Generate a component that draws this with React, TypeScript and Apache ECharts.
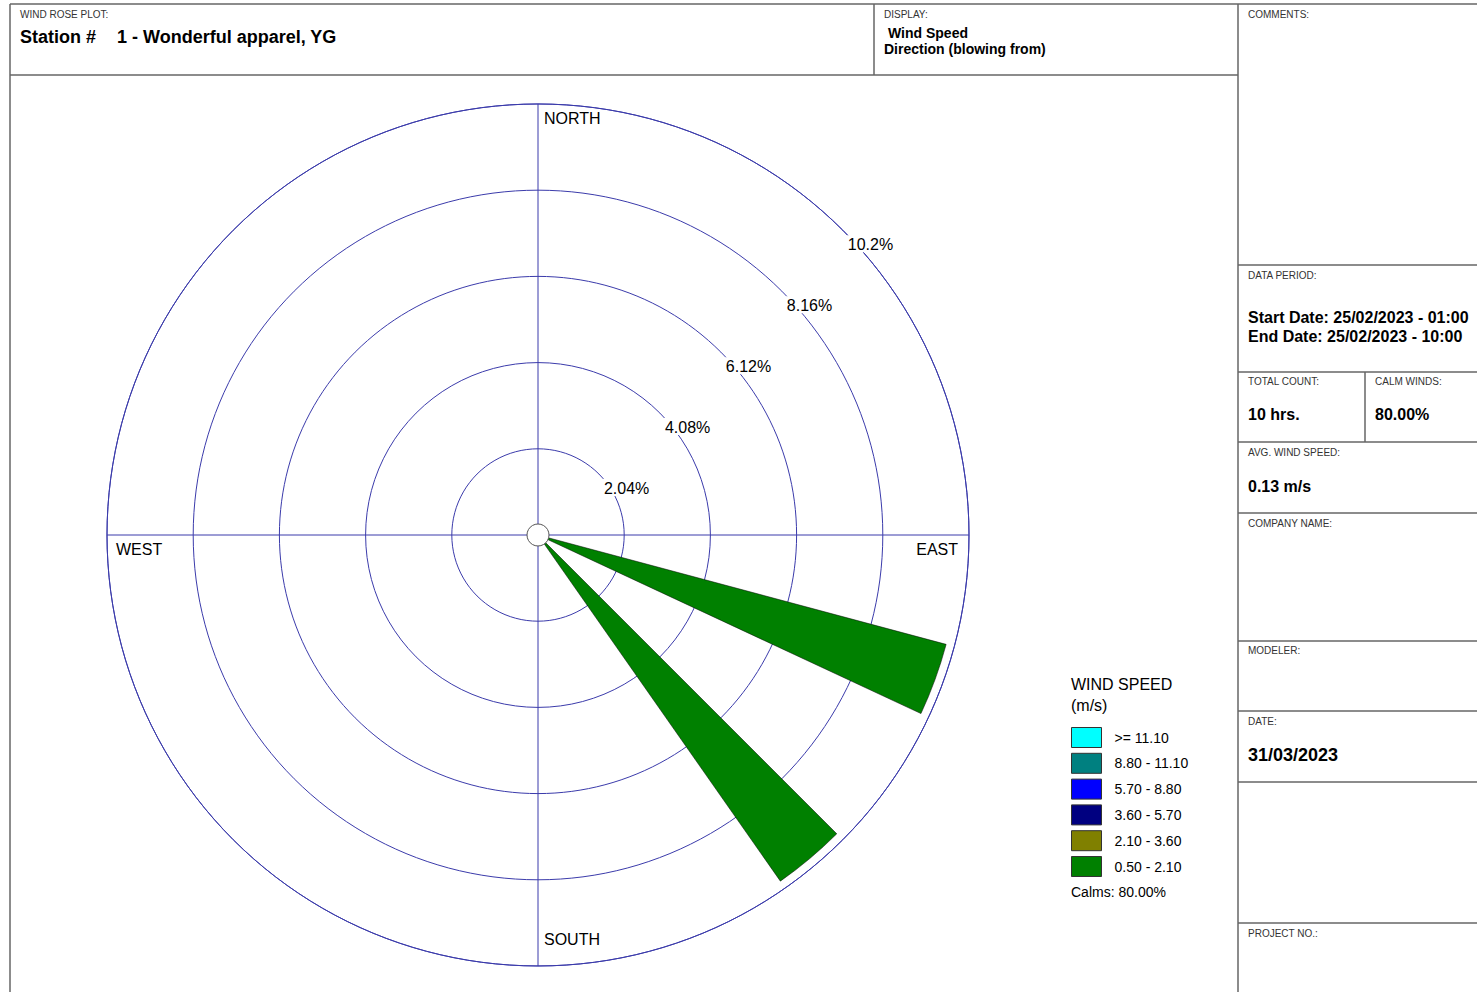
import React, { useEffect, useRef } from 'react';
import * as echarts from 'echarts';

// ---------- data ----------
const DIRECTIONS = ['0', '10', '20', '30', '40', '50', '60', '70', '80', '90', '100', '110', '120', '130', '140', '150', '160', '170',
  '180', '190', '200', '210', '220', '230', '240', '250', '260', '270', '280', '290', '300', '310', '320', '330', '340', '350'];

const SPEED_CLASSES = ['0.50 - 2.10', '2.10 - 3.60', '3.60 - 5.70', '5.70 - 8.80', '8.80 - 11.10', '>= 11.10'];
const CLASS_COLORS = ['#008000', '#808000', '#000080', '#0000FF', '#008080', '#00FFFF'];

// frequency (%) per 10° direction sector
const FREQ_050_210 = [0, 0, 0, 0, 0, 0, 0, 0, 0, 0, 0, 10, 0, 0, 10, 0, 0, 0, 0, 0, 0, 0, 0, 0, 0, 0, 0, 0, 0, 0, 0, 0, 0, 0, 0, 0];
const FREQ_210_360 = [0, 0, 0, 0, 0, 0, 0, 0, 0, 0, 0, 0, 0, 0, 0, 0, 0, 0, 0, 0, 0, 0, 0, 0, 0, 0, 0, 0, 0, 0, 0, 0, 0, 0, 0, 0];
const FREQ_360_570 = [0, 0, 0, 0, 0, 0, 0, 0, 0, 0, 0, 0, 0, 0, 0, 0, 0, 0, 0, 0, 0, 0, 0, 0, 0, 0, 0, 0, 0, 0, 0, 0, 0, 0, 0, 0];
const FREQ_570_880 = [0, 0, 0, 0, 0, 0, 0, 0, 0, 0, 0, 0, 0, 0, 0, 0, 0, 0, 0, 0, 0, 0, 0, 0, 0, 0, 0, 0, 0, 0, 0, 0, 0, 0, 0, 0];
const FREQ_880_1110 = [0, 0, 0, 0, 0, 0, 0, 0, 0, 0, 0, 0, 0, 0, 0, 0, 0, 0, 0, 0, 0, 0, 0, 0, 0, 0, 0, 0, 0, 0, 0, 0, 0, 0, 0, 0];
const FREQ_GE_1110 = [0, 0, 0, 0, 0, 0, 0, 0, 0, 0, 0, 0, 0, 0, 0, 0, 0, 0, 0, 0, 0, 0, 0, 0, 0, 0, 0, 0, 0, 0, 0, 0, 0, 0, 0, 0];
const CLASS_DATA = [FREQ_050_210, FREQ_210_360, FREQ_360_570, FREQ_570_880, FREQ_880_1110, FREQ_GE_1110];

const RING_VALUES = [2.04, 4.08, 6.12, 8.16, 10.2];
const RING_LABELS = ['2.04%', '4.08%', '6.12%', '8.16%', '10.2%'];
const RADIUS_MAX = 10.2;
const RING_INTERVAL = 2.04;
const CALMS = 'Calms: 80.00%';

// ---------- layout ----------
const W = 1477;
const H = 992;
const CX = 538;
const CY = 535;
const R = 431;
const FONT = '"Liberation Sans", Arial, Helvetica, sans-serif';
const GRID = '#3b3bab';
const FRAME = '#666666';
const SMALL = '#333333';

function txt(x: number, y: number, text: string, size: number, bold = false, align = 'left', color = '#000', extra: any = {}) {
  return {
    type: 'text',
    x,
    y,
    z: 50,
    style: {
      text,
      fill: color,
      font: `${bold ? 'bold ' : ''}${size}px ${FONT}`,
      textAlign: align,
      textVerticalAlign: 'middle',
      ...extra,
    },
  };
}

function ln(x1: number, y1: number, x2: number, y2: number) {
  return {
    type: 'line',
    z: 40,
    shape: { x1, y1, x2, y2 },
    style: { stroke: FRAME, lineWidth: 1.5 },
  };
}

export default function App() {
  const ref = useRef<HTMLDivElement>(null);

  useEffect(() => {
    if (!ref.current) return;
    const chart = echarts.init(ref.current, undefined, { renderer: 'svg' });

    const ringTexts = RING_VALUES.map((v, i) => {
      const r = (v / RADIUS_MAX) * R;
      return {
        type: 'text',
        x: CX + r * Math.SQRT1_2 + 4,
        y: CY - r * Math.SQRT1_2 + 5,
        z: 60,
        style: {
          text: RING_LABELS[i],
          fill: '#000',
          font: `16px ${FONT}`,
          textAlign: 'left',
          textVerticalAlign: 'top',
          backgroundColor: '#fff',
          padding: [1, 1, 0, 1],
        },
      };
    });

    const graphic: any[] = [
      // frame
      ln(10, 4, W, 4),
      ln(10, 4, 10, H),
      ln(10, 75, 1238, 75),
      ln(874, 4, 874, 75),
      ln(1238, 4, 1238, H),
      ln(1238, 265, W, 265),
      ln(1238, 372, W, 372),
      ln(1238, 442, W, 442),
      ln(1238, 513, W, 513),
      ln(1238, 641, W, 641),
      ln(1238, 711, W, 711),
      ln(1238, 782, W, 782),
      ln(1238, 923, W, 923),
      ln(1365, 372, 1365, 442),
      // header texts
      txt(20, 14, 'WIND ROSE PLOT:', 10, false, 'left', SMALL),
      txt(20, 37, 'Station #', 18, true),
      txt(117, 37, '1 - Wonderful apparel, YG', 18, true),
      txt(884, 14, 'DISPLAY:', 10, false, 'left', SMALL),
      txt(888, 33, 'Wind Speed', 14, true),
      txt(884, 49, 'Direction (blowing from)', 14, true),
      // right panel
      txt(1248, 14, 'COMMENTS:', 10, false, 'left', SMALL),
      txt(1248, 275, 'DATA PERIOD:', 10, false, 'left', SMALL),
      txt(1248, 317, 'Start Date: 25/02/2023 - 01:00', 16, true),
      txt(1248, 336, 'End Date: 25/02/2023 - 10:00', 16, true),
      txt(1248, 381, 'TOTAL COUNT:', 10, false, 'left', SMALL),
      txt(1248, 414, '10 hrs.', 16, true),
      txt(1375, 381, 'CALM WINDS:', 10, false, 'left', SMALL),
      txt(1375, 414, '80.00%', 16, true),
      txt(1248, 452, 'AVG. WIND SPEED:', 10, false, 'left', SMALL),
      txt(1248, 486, '0.13 m/s', 16, true),
      txt(1248, 523, 'COMPANY NAME:', 10, false, 'left', SMALL),
      txt(1248, 650, 'MODELER:', 10, false, 'left', SMALL),
      txt(1248, 721, 'DATE:', 10, false, 'left', SMALL),
      txt(1248, 755, '31/03/2023', 18, true),
      txt(1248, 933, 'PROJECT NO.:', 10, false, 'left', SMALL),
      // compass
      txt(544, 118, 'NORTH', 16),
      txt(544, 939, 'SOUTH', 16),
      txt(116, 549, 'WEST', 16),
      txt(958, 549, 'EAST', 16, false, 'right'),
      // legend title / calms
      txt(1071, 684, 'WIND SPEED', 16),
      txt(1071, 705, '(m/s)', 16),
      txt(1071, 892, CALMS, 14),
      // ring labels
      ...ringTexts,
      // calm circle
      {
        type: 'circle',
        z: 100,
        shape: { cx: CX, cy: CY, r: 11 },
        style: { fill: '#fff', stroke: '#555', lineWidth: 1 },
      },
    ];

    const hidden = {
      axisLine: { show: false },
      axisTick: { show: false },
      axisLabel: { show: false },
    };

    chart.setOption({
      animation: false,
      backgroundColor: '#fff',
      textStyle: { fontFamily: FONT },
      polar: [
        { center: [CX, CY], radius: R },
        { center: [CX, CY], radius: R },
      ],
      angleAxis: [
        {
          polarIndex: 0,
          type: 'category',
          data: DIRECTIONS,
          startAngle: 95,
          clockwise: true,
          boundaryGap: true,
          axisLine: { show: true, lineStyle: { color: GRID, width: 1 } },
          axisTick: { show: false },
          axisLabel: { show: false },
          splitLine: { show: false },
          splitArea: { show: false },
        },
        {
          polarIndex: 1,
          type: 'value',
          min: 0,
          max: 360,
          interval: 90,
          startAngle: 90,
          clockwise: true,
          ...hidden,
          splitLine: { show: true, lineStyle: { color: GRID, width: 1 } },
          splitArea: { show: false },
        },
      ],
      radiusAxis: [
        {
          polarIndex: 0,
          type: 'value',
          min: 0,
          max: RADIUS_MAX,
          interval: RING_INTERVAL,
          ...hidden,
          splitLine: { show: true, lineStyle: { color: GRID, width: 1 } },
          splitArea: { show: false },
        },
        {
          polarIndex: 1,
          type: 'value',
          min: 0,
          max: RADIUS_MAX,
          ...hidden,
          splitLine: { show: false },
          splitArea: { show: false },
        },
      ],
      legend: {
        orient: 'vertical',
        left: 1071,
        top: 727,
        itemWidth: 30,
        itemHeight: 20,
        itemGap: 4.8,
        padding: 0,
        icon: 'rect',
        selectedMode: false,
        data: SPEED_CLASSES.slice().reverse(),
        itemStyle: { borderColor: '#333', borderWidth: 1 },
        textStyle: { fontSize: 14, color: '#000', fontFamily: FONT, padding: [0, 0, 0, 8] },
      },
      series: SPEED_CLASSES.map((name, i) => ({
        name,
        type: 'bar',
        coordinateSystem: 'polar',
        polarIndex: 0,
        stack: 'wind',
        barCategoryGap: '0%',
        data: CLASS_DATA[i].map((v) => (v === 0 ? '-' : v)),
        itemStyle: { color: CLASS_COLORS[i], borderColor: '#000', borderWidth: 0.5 },
        z: 5,
      })),
      graphic,
    });

    return () => chart.dispose();
  }, []);

  return (
    <div
      ref={ref}
      style={{ position: 'absolute', left: 0, top: 0, width: W, height: H, background: '#fff' }}
    />
  );
}
